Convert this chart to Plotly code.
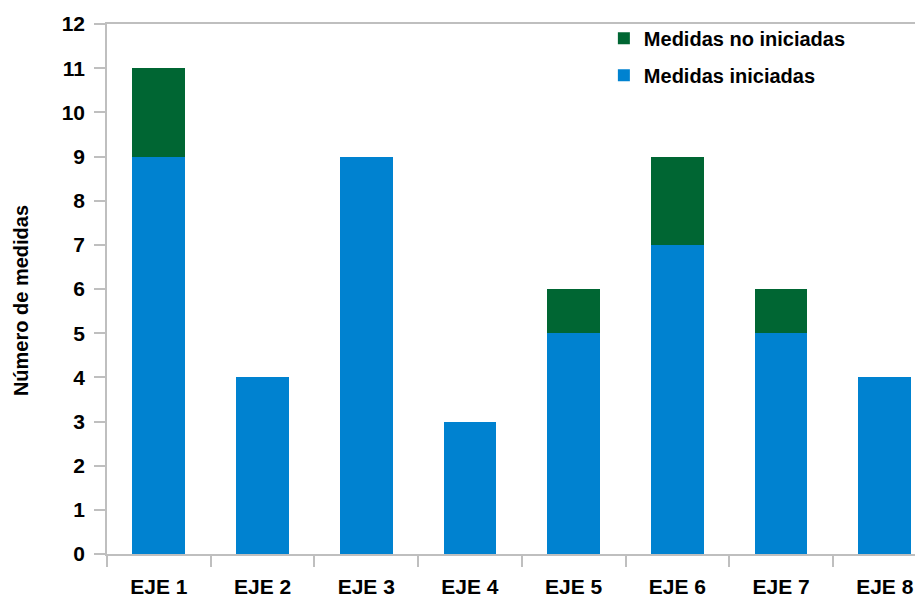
import plotly.graph_objects as go

categories = ["EJE 1", "EJE 2", "EJE 3", "EJE 4", "EJE 5", "EJE 6", "EJE 7", "EJE 8"]
iniciadas = [9, 4, 9, 3, 5, 7, 5, 4]
no_iniciadas = [2, 0, 0, 0, 1, 2, 1, 0]
y_ticks = list(range(0, 13))
y_title = "Número de medidas"

BLUE = "#0082D0"
GREEN = "#006633"
GRAY = "#BFBFBF"
FONT = "Liberation Sans"

fig = go.Figure()
fig.add_trace(go.Bar(x=categories, y=iniciadas, name="Medidas iniciadas",
                     marker=dict(color=BLUE, line=dict(width=0)), width=0.51,
                     legendgroup="a", legendrank=2))
fig.add_trace(go.Bar(x=categories, y=no_iniciadas, name="Medidas no iniciadas",
                     marker=dict(color=GREEN, line=dict(width=0)), width=0.51,
                     legendgroup="b", legendrank=1))

fig.update_layout(
    width=923, height=599,
    barmode="stack",
    plot_bgcolor="white", paper_bgcolor="white",
    margin=dict(l=99, r=0, t=16, b=53, autoexpand=False),
    font=dict(family=FONT, color="black", size=20),
    legend=dict(x=0.603, y=1.01, xanchor="left", yanchor="top",
                traceorder="grouped", tracegroupgap=8,
                font=dict(family=FONT, size=20, weight="bold"),
                itemwidth=30, bgcolor="rgba(0,0,0,0)"),
    showlegend=True,
)
fig.update_xaxes(
    type="category", range=[-0.5, 7.446],
    showline=True, linecolor=GRAY, linewidth=1.5, mirror=True,
    ticks="outside", tickson="boundaries", ticklen=11, tickcolor=GRAY, tickwidth=1.5,
    tickfont=dict(family=FONT, size=21, weight="bold"),
    ticklabelstandoff=13,
    showgrid=False, zeroline=False,
)
fig.update_yaxes(
    range=[0, 12], tickvals=y_ticks,
    showline=True, linecolor=GRAY, linewidth=1.5,
    ticks="outside", ticklen=11, tickcolor=GRAY, tickwidth=1.5,
    tickfont=dict(family=FONT, size=21, weight="bold"),
    ticklabelstandoff=5,
    showgrid=False, zeroline=False,
)
fig.add_annotation(
    text=y_title, textangle=-90, showarrow=False,
    xref="paper", yref="paper", x=-0.1044, y=0.479,
    xanchor="center", yanchor="middle",
    font=dict(family=FONT, size=20, weight="bold", color="black"),
)
fig.write_html("out.html")
